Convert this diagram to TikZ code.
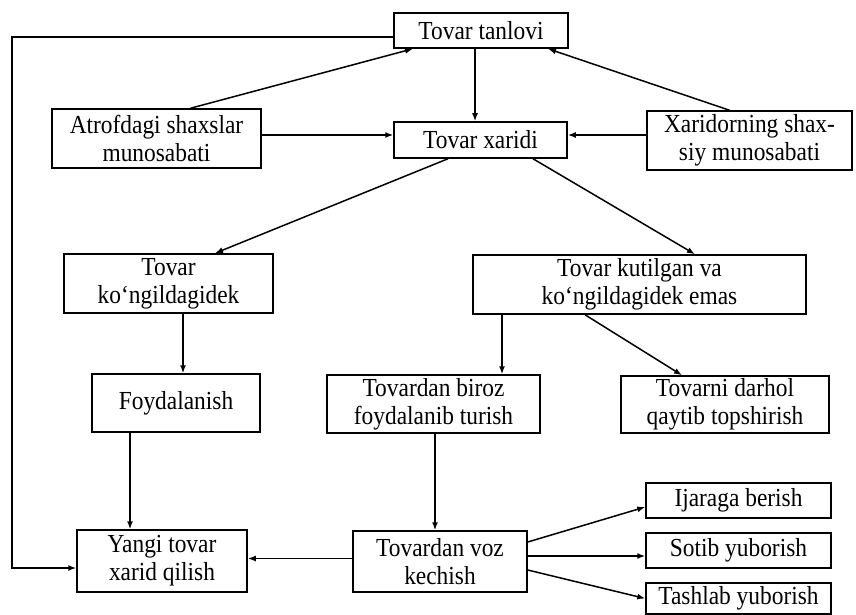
\documentclass[tikz,border=0pt]{standalone}
\usepackage{fontspec}
\setmainfont{Liberation Serif}[FakeStretch=0.9]
\usetikzlibrary{arrows.meta}
\tikzset{
  box/.style={draw, line width=1.5pt, inner sep=0pt, align=center,
    font=\fontsize{26}{28}\selectfont},
  arr/.style={line width=1.5pt, -{Latex[length=8pt,width=6pt]}},
}
\begin{document}
\begin{tikzpicture}[x=1pt,y=-1pt]
\useasboundingbox (0,0) rectangle (856,615);
\fill[white] (0,0) rectangle (856,615);
% nodes
\node[box, minimum width=174pt, minimum height=35pt] (tan) at (481,30.5) {Tovar tanlovi};
\node[box, minimum width=173pt, minimum height=36pt] (xar) at (480.5,140) {Tovar xaridi};
\node[box, minimum width=209pt, minimum height=59pt] (atr) at (156.5,138.5) {Atrofdagi shaxslar\\munosabati};
\node[box, minimum width=205pt, minimum height=59pt] (xsh) at (749.5,140.5) {Xaridorning shax-\\siy munosabati};
\node[box, minimum width=209pt, minimum height=59pt] (kon) at (168.5,283.5) {Tovar\\ko‘ngildagidek};
\node[box, minimum width=333pt, minimum height=59pt] (kut) at (639.5,284.5) {Tovar kutilgan va\\ko‘ngildagidek emas};
\node[box, minimum width=168pt, minimum height=58pt] (foy) at (176,403) {Foydalanish};
\node[box, minimum width=213pt, minimum height=58pt] (bir) at (433.5,404) {Tovardan biroz\\foydalanib turish};
\node[box, minimum width=208pt, minimum height=57pt] (dar) at (725,404.5) {Tovarni darhol\\qaytib topshirish};
\node[box, minimum width=170pt, minimum height=62pt] (yan) at (162,561) {Yangi tovar\\xarid qilish};
\node[box, minimum width=174pt, minimum height=61pt] (voz) at (440,561.5) {Tovardan voz\\kechish};
\node[box, minimum width=185pt, minimum height=35pt] (ija) at (738.5,500.5) {Ijaraga berish};
\node[box, minimum width=185pt, minimum height=35pt] (sot) at (738.5,550.5) {Sotib yuborish};
\node[box, minimum width=185pt, minimum height=31pt] (tas) at (738.5,598.5) {Tashlab yuborish};
% connectors
\draw[arr] ([xshift=-6pt]tan.south) -- ([xshift=-6pt]tan.south |- xar.north);
\draw[arr] ([xshift=34pt]atr.north) -- ([xshift=-68pt]tan.south);
\draw[arr] ([xshift=-20pt]xsh.north) -- ([xshift=67pt]tan.south);
\draw[arr] ([yshift=3.5pt]atr.east) -- ([yshift=3.5pt]atr.east -| xar.west);
\draw[arr] ([yshift=5.5pt]xsh.west) -- ([yshift=5.5pt]xsh.west -| xar.east);
\draw[arr] ([xshift=-32.5pt]xar.south) -- ([xshift=46.5pt]kon.north);
\draw[arr] ([xshift=52.5pt]xar.south) -- ([xshift=55.5pt]kut.north);
\draw[arr] ([xshift=14.5pt]kon.south) -- ([xshift=14.5pt]kon.south |- foy.north);
\draw[arr] ([xshift=-137.5pt]kut.south) -- ([xshift=-137.5pt]kut.south |- bir.north);
\draw[arr] ([xshift=-54.5pt]kut.south) -- ([xshift=-43pt]dar.north);
\draw[arr] ([xshift=-46pt]foy.south) -- ([xshift=-46pt]foy.south |- yan.north);
\draw[arr] ([xshift=1.5pt]bir.south) -- ([xshift=1.5pt]bir.south |- voz.north);
\draw[arr] ([yshift=3pt]voz.west) -- ([yshift=3pt]voz.west -| yan.east);
\draw[arr] ([yshift=19.5pt]voz.east) -- ([yshift=-6.5pt]ija.west);
\draw[arr] ([yshift=5.5pt]voz.east) -- ([yshift=5.5pt]voz.east -| sot.west);
\draw[arr] ([yshift=-8.5pt]voz.east) -- (tas.west);
\coordinate (lt) at (12,37);
\coordinate (lb) at (12,568);
\draw[arr] ([yshift=-6.5pt]tan.west) -- (lt) -- (lb) -- (lb -| yan.west);
\end{tikzpicture}
\end{document}
